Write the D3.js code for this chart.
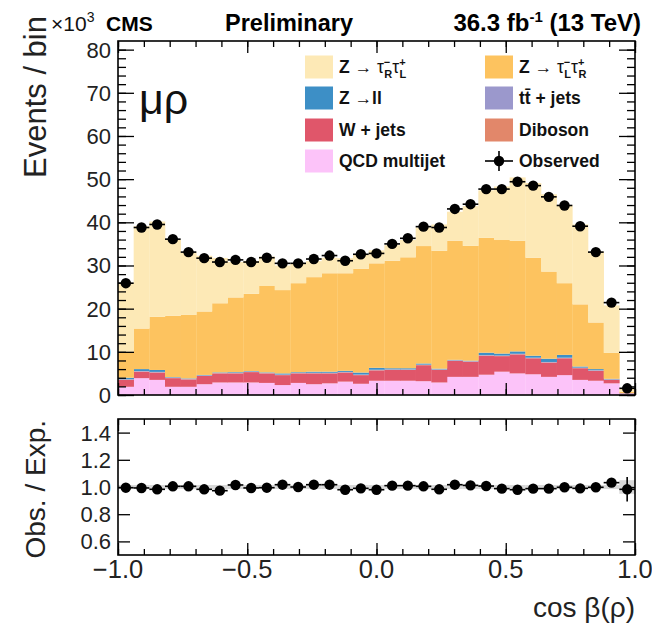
<!DOCTYPE html>
<html>
<head>
<meta charset="utf-8">
<script src="https://cdn.jsdelivr.net/npm/d3@7"></script>
<style>
  body { margin: 0; background: #fff; }
  text { font-family: "Liberation Sans", Arial, sans-serif; }
</style>
</head>
<body>
<svg id="chart"></svg>
<script>
// 33 bins in cos beta(rho), values in units of 10^3 events
const nBins = 33;
const observed = [25.9, 38.8, 39.5, 36.1, 33.1, 31.7, 30.8, 31.3, 30.8, 31.8, 30.5,
  30.5, 31.5, 32.3, 31.1, 32.6, 32.8, 35.0, 36.3, 39.0, 38.8, 43.1,
  44.2, 47.7, 47.7, 49.4, 48.5, 45.9, 43.9, 39.1, 33.1, 21.4, 1.55];
const ratio = [0.995, 0.993, 0.983, 1.005, 1.005, 0.983, 0.973, 1.015, 0.993, 0.995, 1.017,
  1.0, 1.017, 1.017, 0.98, 0.99, 0.98, 1.01, 1.01, 1.005, 0.983, 1.017,
  1.012, 1.007, 0.988, 0.98, 0.988, 0.988, 0.998, 0.99, 0.998, 1.032, 0.983];
const ratioErr = [0.004, 0.004, 0.004, 0.004, 0.004, 0.004, 0.004, 0.004, 0.004, 0.004, 0.004,
  0.004, 0.004, 0.004, 0.004, 0.004, 0.004, 0.004, 0.004, 0.004, 0.004, 0.004,
  0.004, 0.004, 0.004, 0.004, 0.004, 0.004, 0.004, 0.004, 0.004, 0.006, 0.09];

const qcd = [1.9, 3.9, 3.5, 1.9, 1.9, 2.5, 2.9, 2.9, 2.9, 2.8, 2.3,
  2.8, 2.5, 2.7, 3.1, 2.6, 3.3, 3.3, 3.3, 3.2, 2.9, 4.2,
  4.2, 4.7, 5.4, 5.0, 4.8, 4.2, 4.6, 3.5, 3.3, 2.7, 0.3];
const wjets = [1.6, 1.5, 1.7, 2.0, 1.7, 1.9, 2.1, 2.1, 2.4, 2.2, 2.3,
  2.2, 2.5, 2.3, 2.1, 2.0, 2.4, 2.5, 2.5, 3.7, 2.9, 3.7,
  3.5, 4.4, 3.6, 4.4, 3.7, 3.3, 3.9, 2.7, 2.3, 0.8, 0.1];
const diboson = [0.05, 0.05, 0.05, 0.05, 0.05, 0.05, 0.05, 0.05, 0.05, 0.05, 0.05,
  0.05, 0.05, 0.05, 0.05, 0.05, 0.05, 0.05, 0.05, 0.05, 0.05, 0.05,
  0.05, 0.05, 0.05, 0.05, 0.05, 0.05, 0.05, 0.05, 0.05, 0.05, 0.01];
const ttbar = [0.1, 0.1, 0.1, 0.1, 0.1, 0.1, 0.1, 0.1, 0.1, 0.1, 0.1,
  0.1, 0.1, 0.1, 0.1, 0.1, 0.1, 0.1, 0.1, 0.1, 0.1, 0.1,
  0.1, 0.1, 0.1, 0.1, 0.1, 0.1, 0.1, 0.1, 0.1, 0.1, 0.01];
const zll = [0.35, 0.45, 0.45, 0.1, 0.1, 0.1, 0.1, 0.15, 0.1, 0.1, 0.25,
  0.15, 0.25, 0.25, 0.25, 0.45, 0.45, 0.25, 0.25, 0.25, 0.15, 0.1,
  0.1, 0.55, 0.45, 0.55, 0.45, 0.75, 0.65, 0.25, 0.25, 0.1, 0.03];
const ztauLR = [6.0, 9.4, 12.3, 14.2, 14.7, 14.7, 16.0, 17.3, 17.9, 20.0, 19.3,
  20.6, 21.9, 22.8, 22.6, 24.0, 24.2, 24.9, 25.7, 27.2, 27.3, 27.6,
  26.6, 26.6, 26.3, 25.6, 22.7, 20.2, 16.6, 14.4, 10.8, 6.0, 0.35];
const ztauRL = [16.0, 23.7, 22.1, 17.6, 14.4, 12.9, 10.5, 8.2, 7.6, 6.8, 5.7,
  4.6, 3.7, 3.6, 3.5, 3.3, 3.0, 3.6, 4.0, 4.3, 6.1, 6.7,
  9.2, 11.0, 12.4, 14.7, 17.3, 17.9, 18.1, 18.5, 16.4, 11.0, 0.8];

// stacking order, bottom to top
const seriesKeys = ["qcd", "wjets", "diboson", "ttbar", "zll", "ztauLR", "ztauRL"];
const seriesColors = {
  qcd: "#fcc3f9", wjets: "#e0566a", diboson: "#e2876a", ttbar: "#9b98cc",
  zll: "#3d8fc6", ztauLR: "#fdc35f", ztauRL: "#fde9b6"
};

const xTicksMajor = [-1, -0.5, 0, 0.5, 1];
const yTicksMain = [0, 10, 20, 30, 40, 50, 60, 70, 80];
const yTicksRatio = [0.6, 0.8, 1.0, 1.2, 1.4];

const W = 652, H = 625;
const svg = d3.select("#chart").attr("width", W).attr("height", H);

const x = d3.scaleLinear().domain([-1, 1]).range([118, 635]);
const y = d3.scaleLinear().domain([0, 82]).range([395, 41]);
const yr = d3.scaleLinear().domain([0.5, 1.5]).range([555, 419]);

const edges = d3.range(nBins + 1).map(i => -1 + 2 * i / nBins);
const table = d3.range(nBins).map(i => ({
  lo: edges[i], hi: edges[i + 1],
  qcd: qcd[i], wjets: wjets[i], diboson: diboson[i], ttbar: ttbar[i],
  zll: zll[i], ztauLR: ztauLR[i], ztauRL: ztauRL[i]
}));
const stacked = d3.stack().keys(seriesKeys)(table);

// stacked histogram
svg.append("g").selectAll("g")
  .data(stacked)
  .join("g")
  .attr("fill", d => seriesColors[d.key])
  .selectAll("rect")
  .data(d => d)
  .join("rect")
  .attr("x", d => x(d.data.lo))
  .attr("width", d => x(d.data.hi) - x(d.data.lo) + 0.3)
  .attr("y", d => y(d[1]))
  .attr("height", d => Math.max(0, y(d[0]) - y(d[1])));

// ratio MC uncertainty band
const bandHalf = (i) => (i === nBins - 1 ? 0.05 : 0.015);
svg.append("g").selectAll("rect")
  .data(table)
  .join("rect")
  .attr("x", d => x(d.lo))
  .attr("width", d => x(d.hi) - x(d.lo))
  .attr("y", (d, i) => yr(1 + bandHalf(i)))
  .attr("height", (d, i) => yr(1 - bandHalf(i)) - yr(1 + bandHalf(i)))
  .attr("fill", "#c8c8c8")
  .attr("opacity", 0.7);

// frame ticks (inward, on all four sides)
function frameTicks(yTop, yBot, yScale, yMajor, yMinor, majLen, minLen, yMajLen, yMinLen) {
  const minorX = d3.range(-10, 11).map(v => v / 10);
  const g = svg.append("g");
  g.append("g").attr("transform", `translate(0,${yBot})`)
    .call(d3.axisBottom(x).tickValues(minorX).tickSize(-minLen).tickFormat(""));
  g.append("g").attr("transform", `translate(0,${yBot})`)
    .call(d3.axisBottom(x).tickValues(xTicksMajor).tickSize(-majLen).tickFormat(""));
  g.append("g").attr("transform", `translate(0,${yTop})`)
    .call(d3.axisTop(x).tickValues(minorX).tickSize(-minLen).tickFormat(""));
  g.append("g").attr("transform", `translate(0,${yTop})`)
    .call(d3.axisTop(x).tickValues(xTicksMajor).tickSize(-majLen).tickFormat(""));
  if (yMinor.length) {
    g.append("g").attr("transform", `translate(${x(-1)},0)`)
      .call(d3.axisLeft(yScale).tickValues(yMinor).tickSize(-yMinLen).tickFormat(""));
    g.append("g").attr("transform", `translate(${x(1)},0)`)
      .call(d3.axisRight(yScale).tickValues(yMinor).tickSize(-yMinLen).tickFormat(""));
  }
  g.append("g").attr("transform", `translate(${x(-1)},0)`)
    .call(d3.axisLeft(yScale).tickValues(yMajor).tickSize(-yMajLen).tickFormat(""));
  g.append("g").attr("transform", `translate(${x(1)},0)`)
    .call(d3.axisRight(yScale).tickValues(yMajor).tickSize(-yMajLen).tickFormat(""));
  g.selectAll(".domain").remove();
  g.selectAll("line").attr("stroke", "#000").attr("stroke-width", 1.3);
  svg.append("rect")
    .attr("x", x(-1)).attr("y", yTop)
    .attr("width", x(1) - x(-1)).attr("height", yBot - yTop)
    .attr("fill", "none").attr("stroke", "#000").attr("stroke-width", 1.6);
}
frameTicks(41, 395, y, yTicksMain, d3.range(0, 82, 2), 12, 6, 16, 8);
frameTicks(419, 555, yr, yTicksRatio, [], 12, 6, 12, 6);

// observed points, main panel
const obsG = svg.append("g");
observed.forEach((v, i) => {
  const cx = x((edges[i] + edges[i + 1]) / 2);
  obsG.append("line").attr("x1", x(edges[i])).attr("x2", x(edges[i + 1]))
    .attr("y1", y(v)).attr("y2", y(v)).attr("stroke", "#000").attr("stroke-width", 1.6);
  obsG.append("circle").attr("cx", cx).attr("cy", y(v)).attr("r", 5.2).attr("fill", "#000");
});

// observed / expected
const ratG = svg.append("g");
ratio.forEach((v, i) => {
  const cx = x((edges[i] + edges[i + 1]) / 2);
  ratG.append("line").attr("x1", x(edges[i])).attr("x2", x(edges[i + 1]))
    .attr("y1", yr(v)).attr("y2", yr(v)).attr("stroke", "#000").attr("stroke-width", 1.6);
  ratG.append("line").attr("x1", cx).attr("x2", cx)
    .attr("y1", yr(v + ratioErr[i])).attr("y2", yr(v - ratioErr[i]))
    .attr("stroke", "#000").attr("stroke-width", 1.6);
  ratG.append("circle").attr("cx", cx).attr("cy", yr(v)).attr("r", 5.2).attr("fill", "#000");
});

// tick labels
const fmt1 = d3.format(".1f");
svg.append("g").selectAll("text")
  .data(xTicksMajor)
  .join("text")
  .attr("x", d => x(d)).attr("y", 578)
  .attr("text-anchor", "middle").attr("font-size", 25.5).attr("fill", "#222")
  .text(d => fmt1(d));
svg.append("g").selectAll("text")
  .data(yTicksMain)
  .join("text")
  .attr("x", 111).attr("y", d => y(d) + 8)
  .attr("text-anchor", "end").attr("font-size", 22).attr("fill", "#222")
  .text(d => d);
svg.append("g").selectAll("text")
  .data(yTicksRatio)
  .join("text")
  .attr("x", 111).attr("y", d => yr(d) + 8)
  .attr("text-anchor", "end").attr("font-size", 22).attr("fill", "#222")
  .text(d => fmt1(d));

// axis titles
svg.append("text").attr("transform", "translate(46,16) rotate(-90)")
  .attr("text-anchor", "end").attr("font-size", 31).attr("fill", "#222")
  .text("Events / bin");
svg.append("text").attr("transform", "translate(45,420) rotate(-90)")
  .attr("text-anchor", "end").attr("font-size", 28).attr("fill", "#222")
  .text("Obs. / Exp.");
svg.append("text").attr("x", 635).attr("y", 617)
  .attr("text-anchor", "end").attr("font-size", 28).attr("fill", "#222")
  .text("cos β(ρ)");

// header
const hdr = svg.append("text").attr("x", 51).attr("y", 31).attr("font-size", 21).attr("fill", "#111");
hdr.append("tspan").text("×10");
hdr.append("tspan").attr("font-size", 14).attr("dy", -9).text("3");
svg.append("text").attr("x", 106).attr("y", 31).attr("font-size", 21).attr("font-weight", "bold").text("CMS");
svg.append("text").attr("x", 225).attr("y", 31).attr("font-size", 23.5).attr("font-weight", "bold").text("Preliminary");
const lumi = svg.append("text").attr("x", 641).attr("y", 31).attr("text-anchor", "end")
  .attr("font-size", 24).attr("font-weight", "bold");
lumi.append("tspan").text("36.3 fb");
lumi.append("tspan").attr("font-size", 15).attr("dy", -9).text("-1");
lumi.append("tspan").attr("dy", 9).text(" (13 TeV)");

svg.append("text").attr("x", 139).attr("y", 114).attr("font-size", 43).attr("fill", "#111").text("μρ");

// legend
const legendKeys = ["ztauRL", "ztauLR", "zll", "ttbar", "wjets", "diboson", "qcd", "obs"];
const legendLabels = [
  [["Z →  ", 0], ["τ", 0], ["−", -1], ["R", 1], ["τ", 0], ["+", -1], ["L", 1]],
  [["Z →  ", 0], ["τ", 0], ["−", -1], ["L", 1], ["τ", 0], ["+", -1], ["R", 1]],
  [["Z →ll", 0]],
  [["tt̄ + jets", 0]],
  [["W + jets", 0]],
  [["Diboson", 0]],
  [["QCD multijet", 0]],
  [["Observed", 0]]
];
const legCol = [305, 485], legRow = [67, 98, 130, 161];
legendKeys.forEach((k, i) => {
  const lx = legCol[i % 2], ly = legRow[Math.floor(i / 2)];
  if (k === "obs") {
    svg.append("line").attr("x1", lx).attr("x2", lx + 28).attr("y1", ly).attr("y2", ly)
      .attr("stroke", "#000").attr("stroke-width", 1.6);
    svg.append("line").attr("x1", lx + 14).attr("x2", lx + 14).attr("y1", ly - 10).attr("y2", ly + 10)
      .attr("stroke", "#000").attr("stroke-width", 1.6);
    svg.append("circle").attr("cx", lx + 14).attr("cy", ly).attr("r", 5.2).attr("fill", "#000");
  } else {
    svg.append("rect").attr("x", lx).attr("y", ly - 11.5).attr("width", 28).attr("height", 23)
      .attr("fill", seriesColors[k]);
  }
  const t = svg.append("text").attr("x", lx + 34).attr("y", ly + 6)
    .attr("font-size", 17.5).attr("font-weight", "bold").attr("fill", "#111");
  let shift = 0;
  legendLabels[i].forEach(([s, pos]) => {
    const dy = pos === -1 ? -7 - shift : pos === 1 ? 5 - shift : -shift;
    shift += dy;
    const ts = t.append("tspan").attr("dy", dy).text(s);
    if (pos !== 0) ts.attr("font-size", 11);
    if (s === "τ") ts.attr("font-weight", "normal");
    if (pos === 1) ts.attr("dx", -6);
  });
});
</script>
</body>
</html>
